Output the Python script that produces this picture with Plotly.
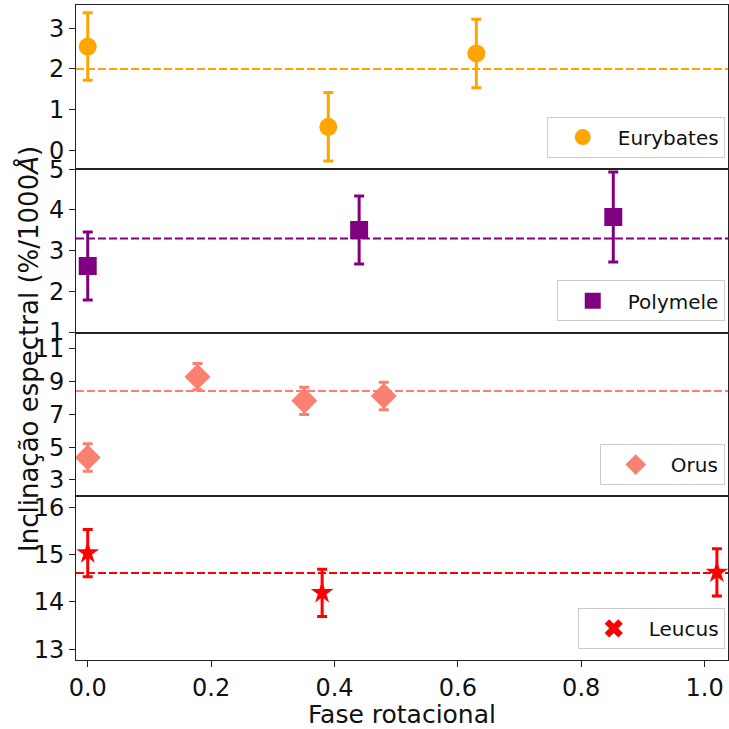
import plotly.graph_objects as go
from plotly.subplots import make_subplots

# Rotational phase and spectral slope (%/1000 Å) for each Trojan
eury_phase = [0.0, 0.39, 0.63]
eury_slope = [2.55, 0.58, 2.38]
eury_err = [0.83, 0.84, 0.84]
eury_mean = 2.0

poly_phase = [0.0, 0.44, 0.852]
poly_slope = [2.625, 3.505, 3.825]
poly_err = [0.835, 0.835, 1.105]
poly_mean = 3.3

orus_phase = [0.0, 0.178, 0.351, 0.48]
orus_slope = [4.37, 9.3, 7.83, 8.12]
orus_err = [0.84, 0.8, 0.83, 0.84]
orus_mean = 8.43

leuc_phase = [0.0, 0.38, 1.02]
leuc_slope = [15.03, 14.19, 14.62]
leuc_err = [0.5, 0.5, 0.5]
leuc_mean = 14.61

names = ["Eurybates", "Polymele", "Orus", "Leucus"]
colors = ["#FFA500", "#800080", "#FA8072", "#FF0000"]
symbols = ["circle", "square", "diamond", "star"]
sizes = [18, 18, 20, 17]
legend_symbols = ["circle", "square", "diamond", "x"]

y_ticks = [[0, 1, 2, 3], [1, 2, 3, 4, 5], [3, 5, 7, 9, 11], [13, 14, 15, 16]]
y_ranges = [[-0.45, 3.57], [0.99, 5.01], [2.0, 12.0], [12.77, 16.23]]
x_ticks = [0.0, 0.2, 0.4, 0.6, 0.8, 1.0]

series = [
    (eury_phase, eury_slope, eury_err, eury_mean),
    (poly_phase, poly_slope, poly_err, poly_mean),
    (orus_phase, orus_slope, orus_err, orus_mean),
    (leuc_phase, leuc_slope, leuc_err, leuc_mean),
]

FONT = "DejaVu Sans"

fig = make_subplots(rows=4, cols=1, shared_xaxes=True, vertical_spacing=0)

for i, (ph, sl, er, mu) in enumerate(series):
    row = i + 1
    leg = "legend" if i == 0 else f"legend{row}"
    star = symbols[i] == "star"
    fig.add_trace(
        go.Scatter(
            x=ph, y=sl, mode="markers", name=names[i],
            marker=dict(symbol=symbols[i], size=sizes[i], color=colors[i], line=dict(width=0)),
            error_y=dict(type="data", array=er, visible=True, color=colors[i], thickness=3, width=5),
            showlegend=not star, legend=leg,
        ),
        row=row, col=1,
    )
    if star:
        # legend entry drawn with a filled X marker
        fig.add_trace(
            go.Scatter(
                x=[None], y=[None], mode="markers", name=names[i],
                marker=dict(symbol=legend_symbols[i], size=16, color=colors[i]),
                showlegend=True, legend=leg,
            ),
            row=row, col=1,
        )
    # dashed reference level
    fig.add_shape(
        type="line", xref=f"x{'' if row == 1 else row} domain", yref=f"y{'' if row == 1 else row}",
        x0=0, x1=1, y0=mu, y1=mu, layer="below",
        line=dict(color=colors[i], width=2, dash="8px,3px"),
    )
    fig.update_yaxes(
        row=row, col=1, range=y_ranges[i], tickvals=y_ticks[i], automargin=False,
        ticks="outside", ticklen=6, tickwidth=1, tickcolor="#222",
        showline=True, mirror=True, linecolor="#222", linewidth=1,
        showgrid=False, zeroline=False,
        tickfont=dict(family=FONT, size=24, color="#111"),
    )
    fig.update_xaxes(
        row=row, col=1, range=[-0.019, 1.038], tickvals=x_ticks, tickformat=".1f",
        automargin=False,
        showline=True, mirror=True, linecolor="#222", linewidth=1,
        showgrid=False, zeroline=False,
        ticks="outside" if row == 4 else "", ticklen=6, tickwidth=1, tickcolor="#222",
        showticklabels=(row == 4),
        tickfont=dict(family=FONT, size=24, color="#111"),
    )

fig.update_xaxes(row=4, col=1, title=dict(text="Fase rotacional", standoff=6,
                                          font=dict(family=FONT, size=25, color="#111")))

# per-panel legends, bottom-right corner of each panel
legend_style = dict(
    xref="paper", yref="paper", xanchor="right", yanchor="bottom",
    bgcolor="white", bordercolor="#cccccc", borderwidth=1,
    font=dict(family=FONT, size=20, color="#111"), itemwidth=60,
)
panel_bottoms = [0.75, 0.5, 0.25, 0.0]
legend_keys = ["legend", "legend2", "legend3", "legend4"]
fig.update_layout(**{
    k: dict(x=0.995, y=b + 0.017, **legend_style) for k, b in zip(legend_keys, panel_bottoms)
})

fig.add_annotation(
    text="Inclinação espectral (%/1000<i>Å</i>)", textangle=-90,
    xref="paper", yref="paper", x=-0.072, y=0.475, showarrow=False,
    xanchor="center", yanchor="middle",
    font=dict(family=FONT, size=26, color="#111"),
)

fig.update_layout(
    width=729, height=729,
    margin=dict(l=76, r=1, t=5, b=69, autoexpand=False),
    paper_bgcolor="white", plot_bgcolor="white",
    font=dict(family=FONT),
)

fig.write_html("out.html")
